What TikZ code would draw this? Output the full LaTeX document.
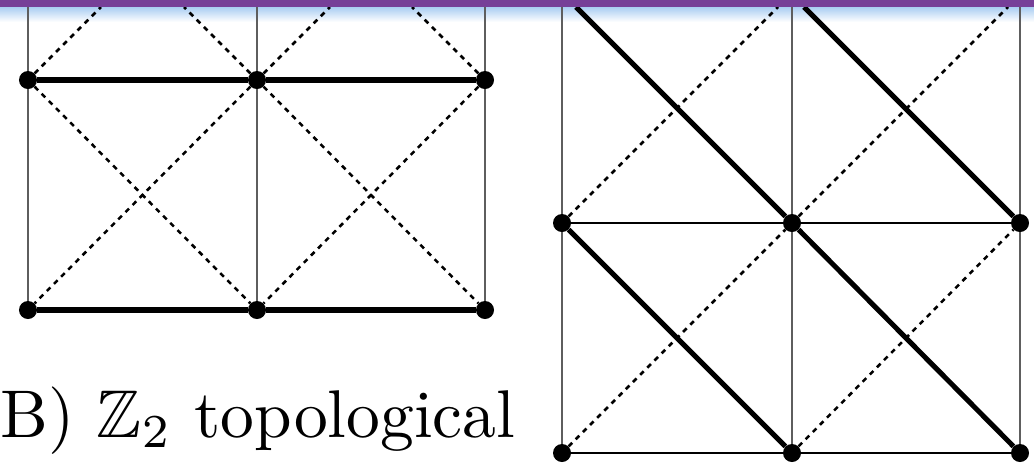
\documentclass[tikz,border=0pt]{standalone}
\usepackage{amssymb}
\usepackage{xcolor}
\definecolor{BarPurple}{HTML}{763F98}
\definecolor{FadeBlue}{HTML}{A9CDF2}
\definecolor{GridGray}{HTML}{5E5E5E}
\usepackage{tikz}
\usetikzlibrary{positioning}
\tikzset{
  latsite/.style={circle, fill=black, inner sep=0pt, minimum size=0.45cm},
  latgrid/.style={line width=1.3pt, GridGray},
  latrow/.style={line width=1.3pt, black},
  latbond/.style={line width=3.6pt, black},
  latdual/.style={line width=1.8pt, black, dash pattern=on 3.6pt off 3.6pt}
}

\begin{document}
\begin{tikzpicture}[x=0.025cm, y=-0.025cm]
\useasboundingbox (0,0) rectangle (1034,462);
\fill[white] (0,0) rectangle (1034,462);
\shade[top color=FadeBlue, bottom color=white] (0,7) rectangle (1034,22);

% sites, left lattice
\node[latsite] (lt1) at (28,80) {};
\node[latsite] (lt2) at (257,80) {};
\node[latsite] (lt3) at (485,80) {};
\node[latsite] (lb1) at (28,310) {};
\node[latsite] (lb2) at (257,310) {};
\node[latsite] (lb3) at (485,310) {};
% sites, right lattice
\node[latsite] (rt1) at (562,223) {};
\node[latsite] (rt2) at (792,223) {};
\node[latsite] (rt3) at (1020,223) {};
\node[latsite] (rb1) at (562,453) {};
\node[latsite] (rb2) at (792,453) {};
\node[latsite] (rb3) at (1020,453) {};

% free ends under the bar
\coordinate (lv1) at (28,7);
\coordinate (lv2) at (257,7);
\coordinate (lv3) at (485,7);
\coordinate (rv1) at (562,7);
\coordinate (rv2) at (792,7);
\coordinate (rv3) at (1020,7);
\coordinate (ld1) at (101,7);
\coordinate (ld2) at (184,7);
\coordinate (ld3) at (330,7);
\coordinate (ld4) at (412,7);
\coordinate (rd1) at (576,7);
\coordinate (rd2) at (778,7);
\coordinate (rd3) at (804,7);
\coordinate (rd4) at (1008,7);

% left lattice
\foreach \i in {1,2,3} {
  \draw[latgrid] (lv\i) -- (lt\i);
  \draw[latgrid] (lt\i) -- (lb\i);
}
\draw[latbond] (lt1) -- (lt2) -- (lt3);
\draw[latbond] (lb1) -- (lb2) -- (lb3);
\draw[latdual] (lt1) -- (ld1);
\draw[latdual] (lt2) -- (ld2);
\draw[latdual] (lt2) -- (ld3);
\draw[latdual] (lt3) -- (ld4);
\draw[latdual] (lt1) -- (lb2);
\draw[latdual] (lt2) -- (lb1);
\draw[latdual] (lt2) -- (lb3);
\draw[latdual] (lt3) -- (lb2);

% right lattice
\foreach \i in {1,2,3} {
  \draw[latgrid] (rv\i) -- (rt\i);
  \draw[latgrid] (rt\i) -- (rb\i);
}
\draw[latrow] (rt1) -- (rt2) -- (rt3);
\draw[latrow] (rb1) -- (rb2) -- (rb3);
\draw[latbond] (rd1) -- (rt2);
\draw[latbond] (rd3) -- (rt3);
\draw[latbond] (rt1) -- (rb2);
\draw[latbond] (rt2) -- (rb3);
\draw[latdual] (rt1) -- (rd2);
\draw[latdual] (rt2) -- (rd4);
\draw[latdual] (rb1) -- (rt2);
\draw[latdual] (rb2) -- (rt3);

\fill[BarPurple] (0,0) rectangle (1034,7);

\node[anchor=base west, inner sep=0pt, font=\normalsize, scale=4.8] (caption) at (-1,437) {B) $\mathbb{Z}_2$ topological};
\end{tikzpicture}
\end{document}
